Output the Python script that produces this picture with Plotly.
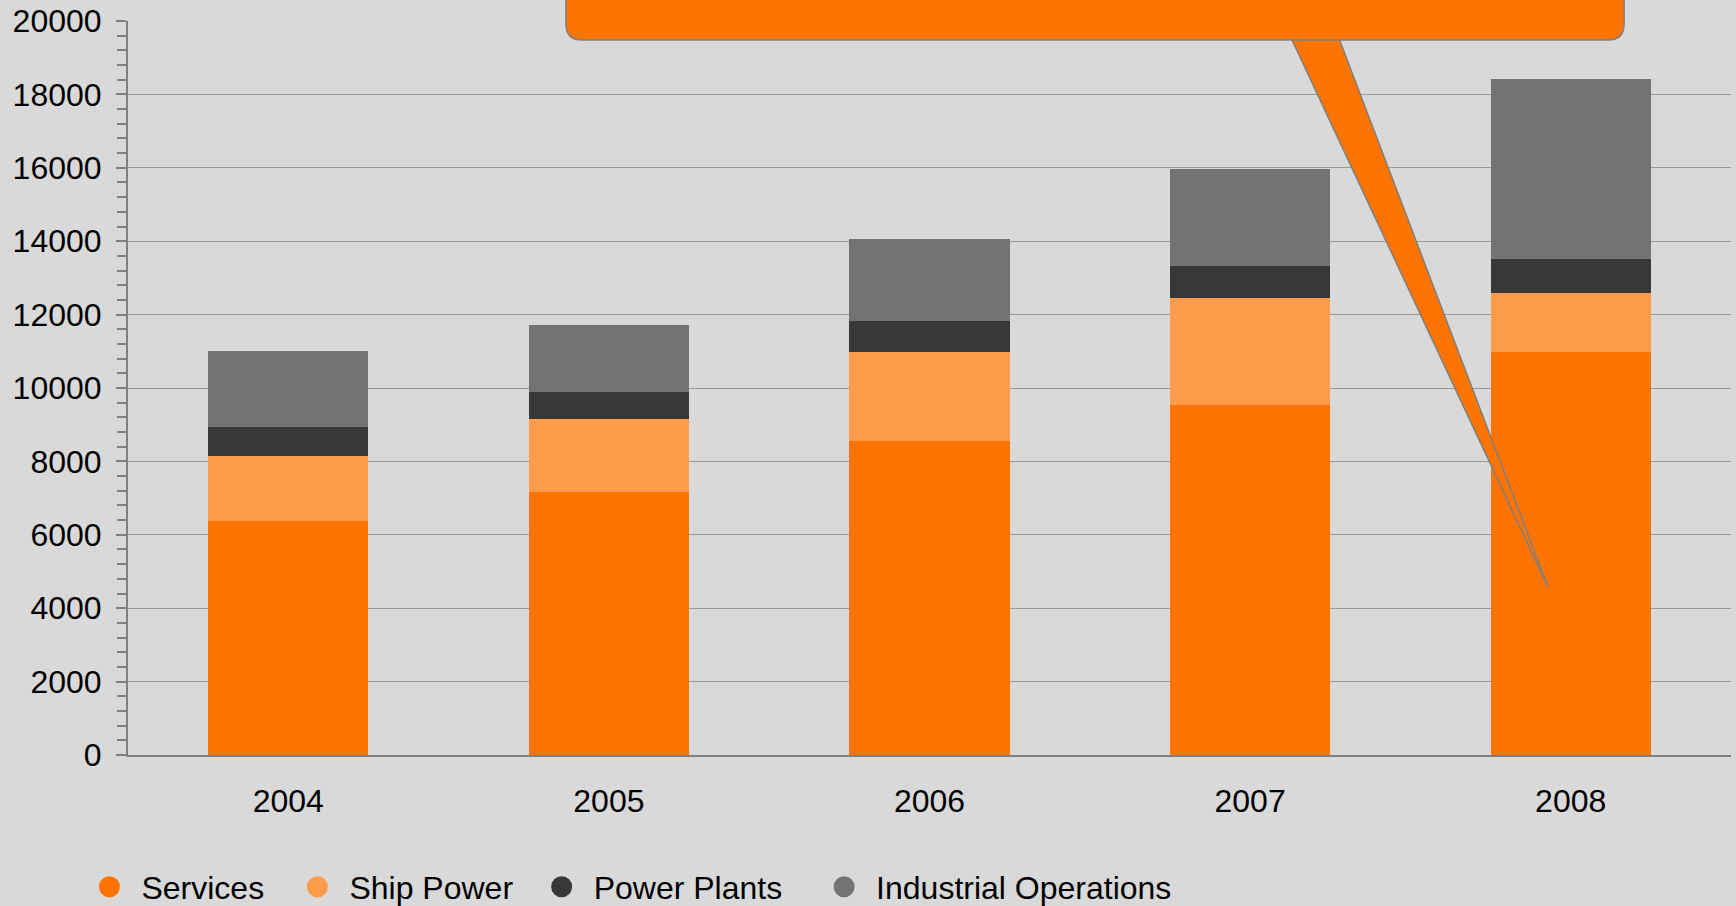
import plotly.graph_objects as go

years = ["2004", "2005", "2006", "2007", "2008"]
services = [6380, 7170, 8560, 9540, 10990]
ship_power = [1770, 1990, 2420, 2910, 1600]
power_plants = [790, 735, 850, 870, 930]
industrial = [2070, 1825, 2230, 2650, 4900]

series_names = ["Services", "Ship Power", "Power Plants", "Industrial Operations"]
series_values = [services, ship_power, power_plants, industrial]
series_colors = ["#FF7300", "#FF9C4B", "#383838", "#737373"]

y_ticks = [0, 2000, 4000, 6000, 8000, 10000, 12000, 14000, 16000, 18000, 20000]

FONT = "Liberation Sans, Arial, sans-serif"
BG = "#D9D9D9"

# legend entry left positions (container units)
legend_x = [0.0446, 0.1644, 0.3051, 0.4678]
legend_ids = ["legend", "legend2", "legend3", "legend4"]

fig = go.Figure()
for name, vals, col in zip(series_names, series_values, series_colors):
    fig.add_trace(go.Bar(x=years, y=vals, name=name, marker=dict(color=col, line=dict(width=0)),
                         showlegend=False))
# legend entries as round markers
for name, col, lid in zip(series_names, series_colors, legend_ids):
    fig.add_trace(go.Scatter(x=[None], y=[None], mode="markers", name=name, legend=lid,
                             marker=dict(symbol="circle", size=16, color=col,
                                         line=dict(color=col, width=5))))

# callout (decorative), in paper units
rx0, rx1, ry0, ry1 = 0.2732, 0.9333, 0.9741, 1.08
cx, cy = 0.0100, 0.0218
rect_path = (f"M {rx0},{ry1} L {rx0},{ry0+cy} Q {rx0},{ry0} {rx0+cx},{ry0} "
             f"L {rx1-cx},{ry0} Q {rx1},{ry0} {rx1},{ry0+cy} L {rx1},{ry1} Z")
tail_path = "M 0.7249,0.9800 L 0.8858,0.2289 L 0.7548,0.9800 Z"
fig.add_shape(type="path", path=tail_path, xref="paper", yref="paper",
              fillcolor="#FF7300", line=dict(color="#7F7F7F", width=1.5), layer="above")
fig.add_shape(type="path", path=rect_path, xref="paper", yref="paper",
              fillcolor="#FF7300", line=dict(color="#7F7F7F", width=1.5), layer="above")

legend_common = dict(orientation="h", xref="container", yref="container",
                     y=0.021, yanchor="middle", xanchor="left",
                     font=dict(family=FONT, size=32, color="#000000"),
                     bgcolor="rgba(0,0,0,0)", itemsizing="trace", itemwidth=54)

fig.update_layout(
    width=1736, height=906,
    barmode="stack", bargap=0.5,
    paper_bgcolor=BG, plot_bgcolor=BG,
    margin=dict(l=128, r=5, t=21, b=151, autoexpand=False),
    font=dict(family=FONT, size=32, color="#000000"),
    legend=dict(x=legend_x[0], **legend_common),
    legend2=dict(x=legend_x[1], **legend_common),
    legend3=dict(x=legend_x[2], **legend_common),
    legend4=dict(x=legend_x[3], **legend_common),
    xaxis=dict(type="category", showgrid=False, showline=True, linecolor="#808080", linewidth=2,
               ticks="", tickfont=dict(size=32), ticklabelstandoff=17, zeroline=False),
    yaxis=dict(range=[0, 20000], tickvals=y_ticks, tickformat="d", showgrid=True,
               gridcolor="#999999", gridwidth=1.3,
               showline=True, linecolor="#808080", linewidth=2, zeroline=False,
               ticks="outside", ticklen=10, tickcolor="#808080", tickwidth=2,
               tickfont=dict(size=32), ticklabelstandoff=8,
               minor=dict(dtick=400, ticks="outside", ticklen=9, tickcolor="#808080",
                          tickwidth=2, showgrid=False)),
)

fig.write_html("out.html", config={"displayModeBar": False},
               post_script="document.body.style.margin='0';")
